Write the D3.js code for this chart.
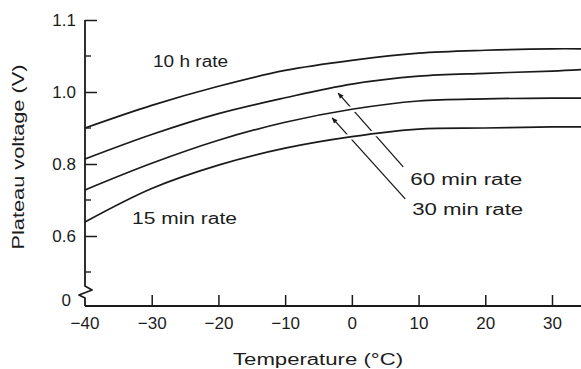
<!DOCTYPE html>
<html>
<head>
<meta charset="utf-8">
<script src="https://cdn.jsdelivr.net/npm/d3@7"></script>
<style>
  html, body { margin: 0; padding: 0; background: #ffffff; }
  svg { display: block; }
  text { font-family: "Liberation Sans", Arial, sans-serif; fill: #1c1c1c; }
</style>
</head>
<body>
<svg id="chart" width="581" height="369"></svg>
<script>
// Temperatures (°C) at which the curves are sampled
const temperatures = [-40, -30, -20, -10, 0, 10, 20, 30, 34.4];

// Plateau voltage (V) for each discharge rate
const rate10h  = [0.900, 0.963, 1.008, 1.030, 1.044, 1.054, 1.058, 1.060, 1.060];
const rate60m  = [0.814, 0.882, 0.940, 0.984, 1.011, 1.022, 1.026, 1.029, 1.031];
const rate30m  = [0.728, 0.802, 0.866, 0.916, 0.952, 0.975, 0.981, 0.983, 0.983];
const rate15m  = [0.639, 0.732, 0.797, 0.844, 0.876, 0.897, 0.900, 0.903, 0.903];

// Axis ticks
const xTicks = [-40, -30, -20, -10, 0, 10, 20, 30];
const yMajorTicks = [0.6, 0.8, 1.0, 1.1];
const yMinorTicks = [0.5, 0.7, 0.9, 1.05];

// Curve labels: [text, temperature, voltage at baseline]
const curveLabels = [
  ["10 h rate",   -29.8, 1.035],
  ["15 min rate", -32.95, 0.633],
  ["60 min rate",  8.75, 0.742],
  ["30 min rate",  9.05, 0.658]
];
// Leader arrows: [from temperature, from voltage, to temperature, to voltage]
const leaders = [
  [7.7, 0.792, -2.05, 0.997],
  [8.0, 0.703, -2.95, 0.928]
];

const svg = d3.select("#chart");
const W = 581;

// The printed voltage axis is stretched above 1.0 V
const x = d3.scaleLinear().domain([-40, 30]).range([85, 552]);
const y = d3.scaleLinear().domain([0.6, 1.0, 1.1]).range([236, 92, 20]);
const xAxisY = 306;
const x0 = x(-40);

const ink = "#1a1a1a";

// arrowhead marker
svg.append("defs").append("marker")
  .attr("id", "arrow")
  .attr("viewBox", "0 0 10 10")
  .attr("refX", 9).attr("refY", 5)
  .attr("markerWidth", 10).attr("markerHeight", 6)
  .attr("markerUnits", "userSpaceOnUse")
  .attr("orient", "auto")
  .append("path")
  .attr("d", "M0,1 L10,5 L0,9 Z")
  .attr("fill", ink);

// leader lines (drawn first so curves break them where they cross)
svg.append("g").selectAll("line").data(leaders).join("line")
  .attr("x1", d => x(d[0])).attr("y1", d => y(d[1]))
  .attr("x2", d => x(d[2])).attr("y2", d => y(d[3]))
  .attr("stroke", ink).attr("stroke-width", 1.3)
  .attr("marker-end", "url(#arrow)");

// curves
const series = [rate10h, rate60m, rate30m, rate15m];
const line = d3.line()
  .x((d, i) => x(temperatures[i]))
  .y(d => y(d))
  .curve(d3.curveCatmullRom.alpha(0.5));

const gCurves = svg.append("g");
gCurves.selectAll("path.halo").data(series).join("path")
  .attr("class", "halo")
  .attr("d", line)
  .attr("fill", "none").attr("stroke", "#ffffff").attr("stroke-width", 6);
gCurves.selectAll("path.curve").data(series).join("path")
  .attr("class", "curve")
  .attr("d", line)
  .attr("fill", "none").attr("stroke", ink).attr("stroke-width", 1.7);

// x axis
const gx = svg.append("g").attr("transform", `translate(0,${xAxisY})`);
gx.call(d3.axisBottom(x).tickValues(xTicks.filter(t => t !== -40))
    .tickSizeInner(-11).tickSizeOuter(0).tickPadding(11)
    .tickFormat(d3.format("d")));
gx.select(".domain").remove();
gx.selectAll(".tick line").attr("stroke", ink).attr("stroke-width", 1.5);
gx.append("g").attr("class", "tick")
  .attr("transform", `translate(${x(-40)},0)`)
  .append("text").attr("y", 11).attr("dy", "0.71em").text(d3.format("d")(-40));
gx.selectAll("text").attr("font-size", 17).attr("font-family", "Liberation Sans, Arial, sans-serif")
  .attr("fill", "#1c1c1c").attr("text-anchor", "middle");
gx.append("line").attr("x1", x0).attr("x2", W).attr("y1", 0).attr("y2", 0)
  .attr("stroke", ink).attr("stroke-width", 1.8);

// y axis
const gy = svg.append("g").attr("transform", `translate(${x0},0)`);
gy.call(d3.axisLeft(y).tickValues(yMajorTicks)
    .tickSizeInner(-12).tickSizeOuter(0).tickPadding(9)
    .tickFormat(d3.format(".1f")));
gy.select(".domain").remove();
gy.selectAll(".tick line").attr("stroke", ink).attr("stroke-width", 1.5);
gy.selectAll("text").attr("font-size", 17).attr("font-family", "Liberation Sans, Arial, sans-serif")
  .attr("fill", "#1c1c1c");
gy.selectAll(".minor").data(yMinorTicks).join("line")
  .attr("class", "minor")
  .attr("x1", 0).attr("x2", 6)
  .attr("y1", d => y(d)).attr("y2", d => y(d))
  .attr("stroke", ink).attr("stroke-width", 1.4);

// y axis spine with a break symbol just above the origin
const breakTop = y(0.5) + 14;
const spine = d3.path();
spine.moveTo(0, y(1.1));
spine.lineTo(0, breakTop);
spine.lineTo(7, breakTop + 4);
spine.lineTo(-6, breakTop + 9);
spine.lineTo(0, breakTop + 12);
spine.lineTo(0, xAxisY);
gy.append("path").attr("d", spine.toString())
  .attr("fill", "none").attr("stroke", ink).attr("stroke-width", 1.8)
  .attr("stroke-linejoin", "round");
gy.append("text")
  .attr("x", -14).attr("y", xAxisY - 6).attr("dy", "0.35em")
  .attr("text-anchor", "end").attr("font-size", 17).text("0");

// curve labels
const labelWidths = {"10 h rate": 75, "15 min rate": 105, "60 min rate": 112, "30 min rate": 111};
svg.append("g").selectAll("text").data(curveLabels).join("text")
  .attr("x", d => x(d[1])).attr("y", d => y(d[2]))
  .attr("font-size", 16)
  .attr("textLength", d => labelWidths[d[0]])
  .attr("lengthAdjust", "spacingAndGlyphs")
  .text(d => d[0]);

// axis titles
svg.append("text")
  .attr("x", 318).attr("y", 365)
  .attr("text-anchor", "middle").attr("font-size", 16)
  .attr("textLength", 170).attr("lengthAdjust", "spacingAndGlyphs")
  .text("Temperature (°C)");
svg.append("text")
  .attr("transform", "translate(18,157) rotate(-90)")
  .attr("text-anchor", "middle").attr("dy", "0.35em").attr("font-size", 16)
  .attr("textLength", 185).attr("lengthAdjust", "spacingAndGlyphs")
  .text("Plateau voltage (V)");
</script>
</body>
</html>
